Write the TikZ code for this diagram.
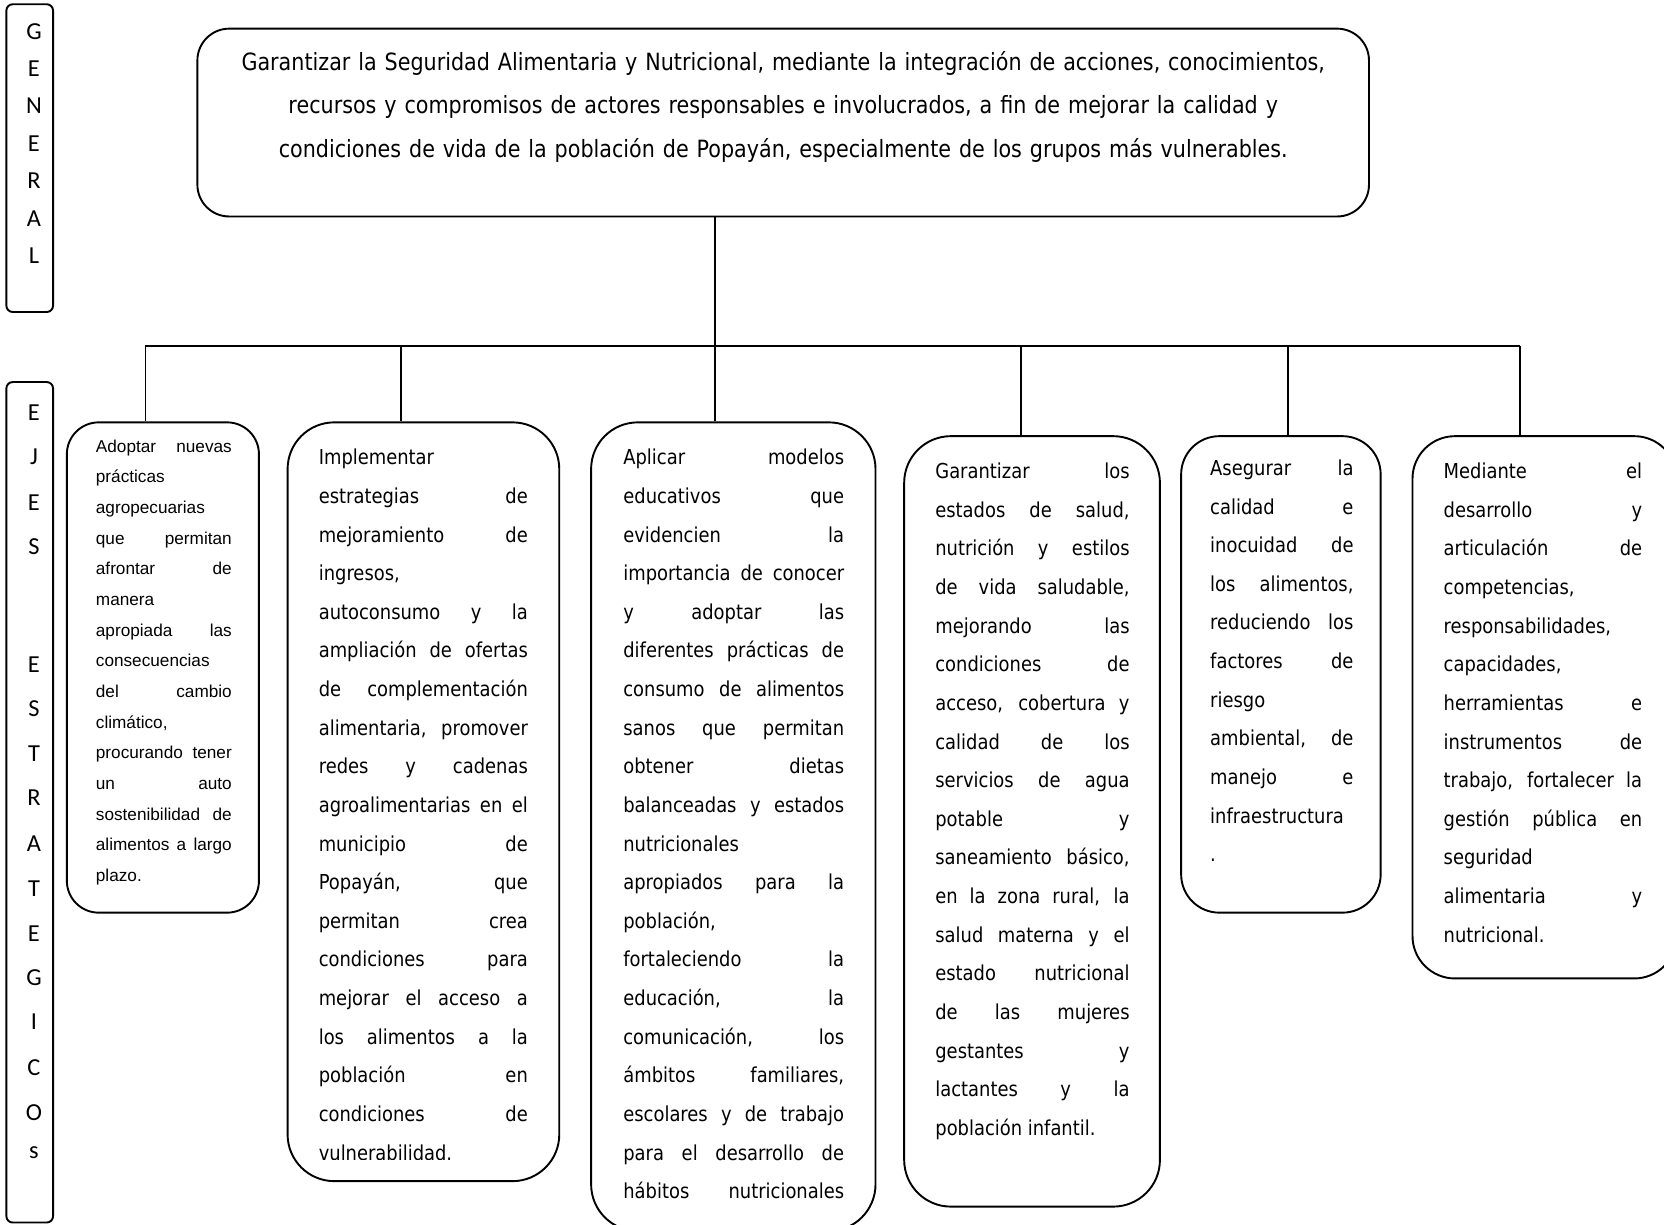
\documentclass[tikz,border=0pt]{standalone}
\usepackage{fontspec}
\setmainfont{DejaVu Sans}
\newfontfamily\tah{DejaVu Sans}[FakeStretch=0.87]
\newfontfamily\arialfont{Liberation Sans}
\newfontfamily\calfont{Carlito}
% one justified line: inter-word glue stretches to the full width
\newcommand\jl[1]{\noindent\hbox to\linewidth{\spaceskip=\fontdimen2\font plus 1fil minus .12em\relax #1}\par}
\begin{document}
\begin{tikzpicture}[x=0.5pt,y=-0.5pt,
  frame/.style 2 args={draw, line width=0.9pt, rounded corners=#1, inner sep=0pt, minimum height=#2},
  link/.style={line width=0.8pt},
  txt/.style={inner sep=0pt, anchor=base west, font=\tah\fontsize{9.7}{18.2}\selectfont},
  lt/.style={inner sep=0pt, font=\calfont\fontsize{11.5}{12}\selectfont}]
\path[use as bounding box, fill=white] (0,0) rectangle (1568,1154);
\clip (0,0) rectangle (1568,1154);

% side labels
\node[frame={3pt}{145pt}, minimum width=22pt] (gen) at (28,149) {};
\node[frame={3pt}{396pt}, minimum width=22pt] (ejes) at (28,756) {};
\foreach \ch/\yy [count=\i] in {G/30,E/65,N/100,E/135,R/170,A/206,L/241}
  \node[lt] (g\i) at (32,\yy) {\ch};
\foreach \ch/\yy [count=\i] in {E/389,J/430,E/474,S/515,E/626,S/668,T/710,R/752,A/795,T/837,E/880,G/921,I/963,C/1006,O/1048,s/1086}
  \node[lt] (e\i) at (32,\yy) {\ch};

% general objective
\node[frame={15pt}{88.5pt}, minimum width=552pt] (top) at (738,115.5) {};
\node[inner sep=0pt, anchor=base, text width=560pt, align=center,
      font=\tah\fontsize{11.2}{20.5}\selectfont] (toptxt) at (738,66)
 {Garantizar la Seguridad Alimentaria y Nutricional, mediante la integración de acciones, conocimientos,\\
  recursos y compromisos de actores responsables e involucrados, a fin de mejorar la calidad y\\
  condiciones de vida de la población de Popayán, especialmente de los grupos más vulnerables.};

% strategic axes
\node[frame={15pt}{231pt}, minimum width=90.5pt] (b1) at (153.5,629) {};
\node[frame={22pt}{357.5pt}, minimum width=128pt] (b2) at (399,755.5) {};
\node[frame={22pt}{381pt}, minimum width=134pt] (b3) at (691,779) {};
\node[frame={22pt}{363pt}, minimum width=120.5pt] (b4) at (972.5,774) {};
\node[frame={18pt}{224.5pt}, minimum width=94pt] (b5) at (1207,635.5) {};
\node[frame={20pt}{255.5pt}, minimum width=124.5pt] (b6) at (1455.5,666.5) {};

% connectors
\coordinate (d1) at (137,326);
\coordinate (d2) at (378,326);
\coordinate (d3) at (674,326);
\coordinate (d4) at (962,326);
\coordinate (d5) at (1214,326);
\coordinate (d6) at (1432,326);
\draw[link] (top.south -| d3) -- (d3);
\draw[link] (d1) -- (d6);
\foreach \k in {1,...,6}
  \draw[link] (d\k) -- (d\k |- b\k.north);

% texts of the axes
\node[txt, text width=64pt, font=\arialfont\fontsize{8.1}{14.45}\selectfont] (t1) at (90,426) {%
\jl{Adoptar nuevas}\jl{prácticas}\jl{agropecuarias}\jl{que permitan}\jl{afrontar de}%
\jl{manera}\jl{apropiada las}\jl{consecuencias}\jl{del cambio}\jl{climático,}%
\jl{procurando tener}\jl{un auto}\jl{sostenibilidad de}\jl{alimentos a largo}\jl{plazo.}};

\begin{scope}
\clip (271,398) rectangle (527,1093);
\node[txt, text width=98.5pt] (t2) at (300,438) {%
\jl{Implementar}\jl{estrategias de}\jl{mejoramiento de}\jl{ingresos,}%
\jl{autoconsumo y la}\jl{ampliación de ofertas}\jl{de complementación}%
\jl{alimentaria, promover}\jl{redes y cadenas}\jl{agroalimentarias en el}%
\jl{municipio de}\jl{Popayán, que}\jl{permitan crea}\jl{condiciones para}%
\jl{mejorar el acceso a}\jl{los alimentos a la}\jl{población en}%
\jl{condiciones de}\jl{vulnerabilidad.}};
\end{scope}

\node[txt, text width=104pt] (t3) at (587,438) {%
\jl{Aplicar modelos}\jl{educativos que}\jl{evidencien la}\jl{importancia de conocer}%
\jl{y adoptar las}\jl{diferentes prácticas de}\jl{consumo de alimentos}%
\jl{sanos que permitan}\jl{obtener dietas}\jl{balanceadas y estados}%
\jl{nutricionales}\jl{apropiados para la}\jl{población,}\jl{fortaleciendo la}%
\jl{educación, la}\jl{comunicación, los}\jl{ámbitos familiares,}%
\jl{escolares y de trabajo}\jl{para el desarrollo de}\jl{hábitos nutricionales}};

\node[txt, text width=91.5pt] (t4) at (881,451) {%
\jl{Garantizar los}\jl{estados de salud,}\jl{nutrición y estilos}%
\jl{de vida saludable,}\jl{mejorando las}\jl{condiciones de}%
\jl{acceso, cobertura y}\jl{calidad de los}\jl{servicios de agua}%
\jl{potable y}\jl{saneamiento básico,}\jl{en la zona rural, la}%
\jl{salud materna y el}\jl{estado nutricional}\jl{de las mujeres}%
\jl{gestantes y}\jl{lactantes y la}\jl{población infantil.\hfill}};

\node[txt, text width=67.5pt] (t5) at (1140,448) {%
\jl{Asegurar la}\jl{calidad e}\jl{inocuidad de}\jl{los alimentos,}%
\jl{reduciendo los}\jl{factores de}\jl{riesgo}\jl{ambiental, de}%
\jl{manejo e}\jl{infraestructura}\jl{.}};

\node[txt, text width=93.5pt] (t6) at (1360,451) {%
\jl{Mediante el}\jl{desarrollo y}\jl{articulación de}\jl{competencias,}%
\jl{responsabilidades,}\jl{capacidades,}\jl{herramientas e}%
\jl{instrumentos de}\jl{trabajo, fortalecer la}\jl{gestión pública en}%
\jl{seguridad}\jl{alimentaria y}\jl{nutricional.}};
\end{tikzpicture}
\end{document}
